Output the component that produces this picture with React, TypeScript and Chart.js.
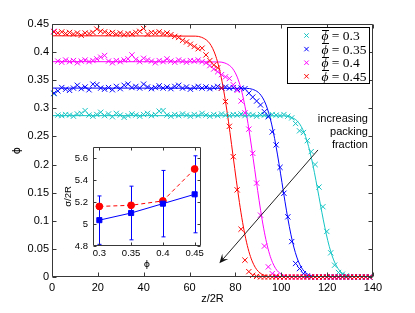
import React, { useEffect, useRef } from 'react';
import { Chart, registerables } from 'chart.js';

Chart.register(...registerables);

// ---------------- main plot data ----------------
const zValues = [
  0.85, 2.55, 4.25, 5.95, 7.65, 9.35, 11.05, 12.75, 14.45, 16.15,
  17.85, 19.55, 21.25, 22.95, 24.65, 26.35, 28.05, 29.75, 31.45, 33.15,
  34.85, 36.55, 38.25, 39.95, 41.65, 43.35, 45.05, 46.75, 48.45, 50.15,
  51.85, 53.55, 55.25, 56.95, 58.65, 60.35, 62.05, 63.75, 65.45, 67.15,
  68.85, 70.55, 72.25, 73.95, 75.65, 77.35, 79.05, 80.75, 82.45, 84.15,
  85.85, 87.55, 89.25, 90.95, 92.65, 94.35, 96.05, 97.75, 99.45, 101.15,
  102.85, 104.55, 106.25, 107.95, 109.65, 111.35, 113.05, 114.75, 116.45, 118.15,
  119.85, 121.55, 123.25, 124.95, 126.65, 128.35, 130.05, 131.75, 133.45, 135.15,
  136.85, 138.55,
];

const phi030 = [
  0.326, 0.288, 0.287, 0.289, 0.288, 0.286, 0.290, 0.291, 0.296, 0.288,
  0.286, 0.289, 0.293, 0.287, 0.290, 0.285, 0.291, 0.288, 0.284, 0.287,
  0.290, 0.288, 0.286, 0.289, 0.291, 0.287, 0.289, 0.295, 0.296, 0.288,
  0.286, 0.289, 0.287, 0.290, 0.288, 0.286, 0.289, 0.287, 0.291, 0.288,
  0.286, 0.289, 0.287, 0.290, 0.288, 0.287, 0.289, 0.288, 0.290, 0.287,
  0.289, 0.288, 0.286, 0.289, 0.288, 0.287, 0.289, 0.288, 0.287, 0.289,
  0.286, 0.283, 0.273, 0.260, 0.257, 0.2425, 0.223, 0.200, 0.160, 0.125,
  0.081, 0.043, 0.021, 0.008, 0.005, 0.002, 0, 0, 0, 0,
  0, 0,
];

const phi035 = [
  0.327, 0.331, 0.337, 0.334, 0.332, 0.336, 0.341, 0.335, 0.338, 0.333,
  0.343, 0.342, 0.336, 0.334, 0.337, 0.333, 0.339, 0.335, 0.341, 0.343,
  0.337, 0.339, 0.336, 0.343, 0.338, 0.335, 0.337, 0.340, 0.336, 0.338,
  0.335, 0.339, 0.341, 0.336, 0.338, 0.334, 0.337, 0.339, 0.336, 0.338,
  0.335, 0.337, 0.339, 0.336, 0.338, 0.336, 0.337, 0.334, 0.336, 0.335,
  0.327, 0.320, 0.313, 0.306, 0.294, 0.285, 0.258, 0.235, 0.195, 0.149,
  0.107, 0.063, 0.024, 0.015, 0.006, 0.002, 0, 0, 0, 0,
  0, 0, 0, 0, 0, 0, 0, 0, 0, 0,
  0, 0,
];

const phi040 = [
  0.437, 0.384, 0.382, 0.386, 0.383, 0.385, 0.381, 0.384, 0.386, 0.383,
  0.385, 0.388, 0.391, 0.394, 0.384, 0.381, 0.385, 0.383, 0.386, 0.388,
  0.395, 0.387, 0.383, 0.389, 0.386, 0.384, 0.381, 0.385, 0.383, 0.388,
  0.384, 0.382, 0.386, 0.384, 0.382, 0.385, 0.384, 0.386, 0.383, 0.381,
  0.376, 0.370, 0.365, 0.360, 0.356, 0.353, 0.342, 0.332, 0.313, 0.292,
  0.263, 0.220, 0.167, 0.110, 0.055, 0.018, 0.006, 0.002, 0, 0,
  0, 0, 0, 0, 0, 0, 0, 0, 0, 0,
  0, 0, 0, 0, 0, 0, 0, 0, 0, 0,
  0, 0,
];

const phi045 = [
  0.436, 0.434, 0.436, 0.433, 0.435, 0.432, 0.434, 0.430, 0.434, 0.433,
  0.435, 0.441, 0.437, 0.436, 0.433, 0.435, 0.432, 0.434, 0.431, 0.433,
  0.432, 0.435, 0.437, 0.442, 0.432, 0.435, 0.434, 0.436, 0.433, 0.434,
  0.431, 0.428, 0.426, 0.421, 0.418, 0.414, 0.410, 0.406, 0.407, 0.395,
  0.385, 0.377, 0.372, 0.336, 0.312, 0.268, 0.214, 0.155, 0.085, 0.030,
  0.0095, 0.003, 0.001, 0, 0, 0, 0, 0, 0, 0,
  0, 0, 0, 0, 0, 0, 0, 0, 0, 0,
  0, 0, 0, 0, 0, 0, 0, 0, 0, 0,
  0, 0,
];

// fitted profiles
const fit030Z = [0, 100.95, 103.53, 106.1, 107.39, 108.68, 109.96, 111.25, 112.54, 113.83, 115.11, 116.4, 117.69, 118.98, 120.26, 121.55, 122.84, 124.13, 125.41, 126.7, 129.28, 131.85, 140];
const fit030Phi = [0.287, 0.2866, 0.2852, 0.2805, 0.2755, 0.2678, 0.2567, 0.2415, 0.222, 0.1985, 0.1718, 0.1435, 0.1152, 0.0886, 0.065, 0.0455, 0.0303, 0.0192, 0.0115, 0.0065, 0.0018, 0.0004, 0];
const fit035Z = [0, 84.82, 87.4, 89.98, 91.27, 92.56, 93.85, 95.14, 96.43, 97.72, 99.01, 100.3, 101.59, 102.88, 104.17, 105.46, 106.75, 108.04, 109.33, 110.62, 113.2, 115.78, 140];
const fit035Phi = [0.336, 0.3355, 0.3339, 0.3284, 0.3225, 0.3136, 0.3005, 0.2827, 0.2599, 0.2323, 0.2012, 0.168, 0.1348, 0.1037, 0.0761, 0.0533, 0.0355, 0.0224, 0.0135, 0.0076, 0.0021, 0.0005, 0];
const fit040Z = [0, 72.8, 75.4, 78.0, 79.3, 80.6, 81.9, 83.2, 84.5, 85.8, 87.1, 88.4, 89.7, 91.0, 92.3, 93.6, 94.9, 96.2, 97.5, 98.8, 101.4, 104, 140];
const fit040Phi = [0.383, 0.3825, 0.3806, 0.3743, 0.3677, 0.3574, 0.3425, 0.3222, 0.2962, 0.2648, 0.2293, 0.1915, 0.1537, 0.1182, 0.0868, 0.0608, 0.0405, 0.0256, 0.0153, 0.0087, 0.0024, 0.0005, 0];
const fit045Z = [0, 62.5, 65.25, 68.0, 69.375, 70.75, 72.125, 73.5, 74.875, 76.25, 77.625, 79, 80.375, 81.75, 83.125, 84.5, 85.875, 87.25, 88.625, 90, 92.75, 95.5, 140];
const fit045Phi = [0.429, 0.4284, 0.4263, 0.4192, 0.4118, 0.4003, 0.3837, 0.3609, 0.3318, 0.2966, 0.2568, 0.2145, 0.1722, 0.1324, 0.0972, 0.0681, 0.0453, 0.0287, 0.0172, 0.0098, 0.0027, 0.0006, 0];

const xTicks = [0, 20, 40, 60, 80, 100, 120, 140];
const yTicks = [0, 0.05, 0.1, 0.15, 0.2, 0.25, 0.3, 0.35, 0.4, 0.45];
const legendValues = ['0.3', '0.35', '0.4', '0.45'];
const noteLines = ['increasing', 'packing', 'fraction'];
const arrowFrom = [116, 0.226];
const arrowTo = [73, 0.0244];
const noteAnchor = [137.8, 0.2811];
const noteStep = 0.0231;

// ---------------- inset data ----------------
const insetPhi = [0.3, 0.35, 0.4, 0.45];
const sigmaFit = [5.16, 5.17, 5.21, 5.5];
const sigmaMean = [5.035, 5.1, 5.185, 5.27];
const sigmaErr = [0.22, 0.244, 0.302, 0.35];
const insetXTicks = [0.3, 0.35, 0.4, 0.45];
const insetYTicks = [4.8, 5, 5.2, 5.4, 5.6];

const CYAN = 'rgb(20,196,196)';
const BLUE = '#0000ff';
const MAGENTA = '#ff00ff';
const RED = '#ff0000';
const AXIS = '#383838';
const SANS = '"Liberation Sans", Arial, Helvetica, sans-serif';
const SERIF = '"Liberation Serif", "DejaVu Serif", serif';
const seriesColors = [CYAN, BLUE, MAGENTA, RED];

function pts(xs: number[], ys: number[]) {
  return xs.map((x, i) => ({ x, y: ys[i] }));
}

function drawBoxAndTicks(chart: any, xt: number[], yt: number[], len: number) {
  const { ctx, chartArea: a, scales } = chart;
  const L = Math.round(a.left) + 0.5;
  const R = Math.round(a.right) - 0.5;
  const T = Math.round(a.top) + 0.5;
  const B = Math.round(a.bottom) - 0.5;
  ctx.save();
  ctx.strokeStyle = AXIS;
  ctx.lineWidth = 1;
  ctx.beginPath();
  ctx.rect(L, T, R - L, B - T);
  xt.forEach((v) => {
    const px = Math.round(scales.x.getPixelForValue(v)) + 0.5;
    ctx.moveTo(px, B);
    ctx.lineTo(px, B - len);
    ctx.moveTo(px, T);
    ctx.lineTo(px, T + len);
  });
  yt.forEach((v) => {
    const py = Math.round(scales.y.getPixelForValue(v)) + 0.5;
    ctx.moveTo(L, py);
    ctx.lineTo(L + len, py);
    ctx.moveTo(R, py);
    ctx.lineTo(R - len, py);
  });
  ctx.stroke();
  ctx.restore();
}

const mainDeco = {
  id: 'mainDeco',
  afterDraw(chart: any) {
    const { ctx, chartArea: a, scales } = chart;
    drawBoxAndTicks(chart, xTicks, yTicks, 4);
    ctx.save();
    // legend
    const lw = 82;
    const lh = 56;
    const lx = Math.round(a.right - 4 - lw) + 0.5;
    const ly = Math.round(a.top + 3) + 0.5;
    ctx.fillStyle = '#fff';
    ctx.fillRect(lx, ly, lw, lh);
    ctx.strokeStyle = '#000';
    ctx.lineWidth = 1;
    ctx.strokeRect(lx, ly, lw, lh);
    legendValues.forEach((val, i) => {
      const cy = ly + 8 + i * 13.6;
      const mx = lx + 19;
      ctx.strokeStyle = seriesColors[i];
      ctx.beginPath();
      ctx.moveTo(mx - 2.2, cy - 2.2);
      ctx.lineTo(mx + 2.2, cy + 2.2);
      ctx.moveTo(mx - 2.2, cy + 2.2);
      ctx.lineTo(mx + 2.2, cy - 2.2);
      ctx.stroke();
      const tx = lx + 34;
      const base = cy + 4.5;
      ctx.fillStyle = '#000';
      ctx.textBaseline = 'alphabetic';
      ctx.textAlign = 'left';
      ctx.font = 'italic 13.5px ' + SERIF;
      ctx.fillText('\u03d5', tx, base);
      const w = ctx.measureText('\u03d5').width;
      ctx.strokeStyle = '#000';
      ctx.beginPath();
      ctx.moveTo(tx + 0.5, Math.round(cy - 6) + 0.5);
      ctx.lineTo(tx + w + 0.5, Math.round(cy - 6) + 0.5);
      ctx.stroke();
      ctx.font = '13.5px ' + SERIF;
      ctx.fillText(' = ' + val, tx + w, base);
    });
    // annotation text
    ctx.fillStyle = '#000';
    ctx.font = '11px ' + SANS;
    ctx.textAlign = 'right';
    ctx.textBaseline = 'middle';
    const nx = scales.x.getPixelForValue(noteAnchor[0]);
    noteLines.forEach((t, i) => {
      ctx.fillText(t, nx, scales.y.getPixelForValue(noteAnchor[1] - i * noteStep));
    });
    // arrow
    const x1 = scales.x.getPixelForValue(arrowFrom[0]);
    const y1 = scales.y.getPixelForValue(arrowFrom[1]);
    const x2 = scales.x.getPixelForValue(arrowTo[0]);
    const y2 = scales.y.getPixelForValue(arrowTo[1]);
    const ang = Math.atan2(y2 - y1, x2 - x1);
    const c = Math.cos(ang);
    const s = Math.sin(ang);
    ctx.strokeStyle = '#222';
    ctx.lineWidth = 1;
    ctx.beginPath();
    ctx.moveTo(x1, y1);
    ctx.lineTo(x2 - 5 * c, y2 - 5 * s);
    ctx.stroke();
    const HL = 9;
    const HW = 4;
    ctx.fillStyle = '#111';
    ctx.beginPath();
    ctx.moveTo(x2, y2);
    ctx.lineTo(x2 - HL * c + HW * s, y2 - HL * s - HW * c);
    ctx.lineTo(x2 - 0.6 * HL * c, y2 - 0.6 * HL * s);
    ctx.lineTo(x2 - HL * c - HW * s, y2 - HL * s + HW * c);
    ctx.closePath();
    ctx.fill();
    ctx.restore();
  },
};

const insetDeco = {
  id: 'insetDeco',
  beforeDraw(chart: any) {
    const { ctx, chartArea: a } = chart;
    ctx.save();
    ctx.fillStyle = '#fff';
    ctx.fillRect(a.left, a.top, a.right - a.left, a.bottom - a.top);
    ctx.restore();
  },
  beforeDatasetsDraw(chart: any) {
    const { ctx, scales } = chart;
    ctx.save();
    ctx.strokeStyle = BLUE;
    ctx.lineWidth = 1;
    insetPhi.forEach((p, i) => {
      const px = Math.round(scales.x.getPixelForValue(p)) + 0.5;
      const top = scales.y.getPixelForValue(sigmaMean[i] + sigmaErr[i]);
      const bot = scales.y.getPixelForValue(sigmaMean[i] - sigmaErr[i]);
      ctx.beginPath();
      ctx.moveTo(px, top);
      ctx.lineTo(px, bot);
      ctx.moveTo(px - 2, top);
      ctx.lineTo(px + 2, top);
      ctx.moveTo(px - 2, bot);
      ctx.lineTo(px + 2, bot);
      ctx.stroke();
    });
    ctx.restore();
  },
  afterDraw(chart: any) {
    drawBoxAndTicks(chart, insetXTicks, insetYTicks, 3);
  },
};

function markerSet(label: string, ys: number[], color: string, order: number) {
  return {
    label,
    data: pts(zValues, ys),
    showLine: false,
    pointStyle: 'crossRot',
    pointRadius: 3.7,
    pointBorderWidth: 1,
    borderColor: color,
    pointBorderColor: color,
    backgroundColor: color,
    clip: false,
    order,
  };
}

function fitSet(label: string, xs: number[], ys: number[], color: string, order: number) {
  return {
    label,
    data: pts(xs, ys),
    borderColor: color,
    borderWidth: 1,
    pointRadius: 0,
    cubicInterpolationMode: 'monotone',
    fill: false,
    order,
  };
}

export default function App() {
  const mainRef = useRef<HTMLCanvasElement>(null);
  const insetRef = useRef<HTMLCanvasElement>(null);

  useEffect(() => {
    const tickFont = { family: SANS, size: 11 };
    const main = new Chart(mainRef.current as HTMLCanvasElement, {
      type: 'line',
      data: {
        datasets: [
          fitSet('fit 0.3', fit030Z, fit030Phi, CYAN, 7),
          fitSet('fit 0.35', fit035Z, fit035Phi, BLUE, 6),
          fitSet('fit 0.4', fit040Z, fit040Phi, MAGENTA, 5),
          fitSet('fit 0.45', fit045Z, fit045Phi, RED, 4),
          markerSet('0.3', phi030, CYAN, 3),
          markerSet('0.35', phi035, BLUE, 2),
          markerSet('0.4', phi040, MAGENTA, 1),
          markerSet('0.45', phi045, RED, 0),
        ] as any,
      },
      options: {
        animation: false,
        responsive: false,
        devicePixelRatio: 1,
        events: [],
        layout: { padding: { left: 0, top: 24, right: 42, bottom: 0 } },
        plugins: { legend: { display: false }, tooltip: { enabled: false } },
        scales: {
          x: {
            type: 'linear',
            min: 0,
            max: 140,
            afterBuildTicks: (s: any) => {
              s.ticks = xTicks.map((v) => ({ value: v }));
            },
            afterFit: (s: any) => {
              s.height = 36;
            },
            ticks: {
              font: tickFont,
              color: '#000',
              padding: 4,
              maxRotation: 0,
              autoSkip: false,
              callback: (v: any) => String(v),
            },
            grid: { display: false, drawTicks: false },
            border: { display: false },
            title: {
              display: true,
              text: 'z/2R',
              color: '#000',
              font: { family: SANS, size: 11 },
              padding: { top: 0, bottom: 7 },
            },
          },
          y: {
            type: 'linear',
            min: 0,
            max: 0.45,
            afterBuildTicks: (s: any) => {
              s.ticks = yTicks.map((v) => ({ value: v }));
            },
            afterFit: (s: any) => {
              s.width = 52;
            },
            ticks: {
              font: tickFont,
              color: '#000',
              padding: 3,
              autoSkip: false,
              callback: (v: any) => String(v),
            },
            grid: { display: false, drawTicks: false },
            border: { display: false },
            title: {
              display: true,
              text: '\u03d5',
              color: '#000',
              font: { family: '"DejaVu Sans", ' + SANS, size: 11 },
              padding: { top: 11, bottom: 0 },
            },
          },
        },
      } as any,
      plugins: [mainDeco],
    });

    const insetFont = { family: SANS, size: 9.5 };
    const inset = new Chart(insetRef.current as HTMLCanvasElement, {
      type: 'line',
      data: {
        datasets: [
          {
            label: 'sigma fit',
            data: pts(insetPhi, sigmaFit),
            borderColor: RED,
            backgroundColor: RED,
            borderWidth: 1,
            borderDash: [4, 3],
            pointStyle: 'circle',
            pointRadius: 3.4,
            pointBackgroundColor: RED,
            pointBorderColor: RED,
            order: 1,
          },
          {
            label: 'sigma mean',
            data: pts(insetPhi, sigmaMean),
            borderColor: BLUE,
            backgroundColor: BLUE,
            borderWidth: 1,
            pointStyle: 'rect',
            pointRadius: 3.6,
            pointBackgroundColor: BLUE,
            pointBorderColor: BLUE,
            order: 0,
          },
        ] as any,
      },
      options: {
        animation: false,
        responsive: false,
        devicePixelRatio: 1,
        events: [],
        layout: { padding: { left: 0, top: 12, right: 14, bottom: 0 } },
        plugins: { legend: { display: false }, tooltip: { enabled: false } },
        scales: {
          x: {
            type: 'linear',
            min: 0.29,
            max: 0.46,
            afterBuildTicks: (s: any) => {
              s.ticks = insetXTicks.map((v) => ({ value: v }));
            },
            afterFit: (s: any) => {
              s.height = 29;
            },
            ticks: {
              font: insetFont,
              color: '#000',
              padding: 2,
              maxRotation: 0,
              autoSkip: false,
              callback: (v: any) => String(v),
            },
            grid: { display: false, drawTicks: false },
            border: { display: false },
            title: {
              display: true,
              text: '\u03d5',
              color: '#000',
              font: { family: '"DejaVu Sans", ' + SANS, size: 9.5 },
              padding: { top: 0, bottom: 5 },
            },
          },
          y: {
            type: 'linear',
            min: 4.8,
            max: 5.7,
            afterBuildTicks: (s: any) => {
              s.ticks = insetYTicks.map((v) => ({ value: v }));
            },
            afterFit: (s: any) => {
              s.width = 38;
            },
            ticks: {
              font: insetFont,
              color: '#000',
              padding: 5,
              autoSkip: false,
              callback: (v: any) => String(v),
            },
            grid: { display: false, drawTicks: false },
            border: { display: false },
            title: {
              display: true,
              text: '\u03c3/2R',
              color: '#000',
              font: insetFont,
              padding: { top: 8, bottom: 0 },
            },
          },
        },
      } as any,
      plugins: [insetDeco],
    });

    return () => {
      main.destroy();
      inset.destroy();
    };
  }, []);

  return (
    <div
      style={{
        position: 'absolute',
        left: 0,
        top: 0,
        width: 415,
        height: 313,
        background: '#fff',
        overflow: 'hidden',
      }}
    >
      <canvas
        ref={mainRef}
        width={415}
        height={313}
        style={{ position: 'absolute', left: 0, top: 0, width: 415, height: 313 }}
      />
      <canvas
        ref={insetRef}
        width={160}
        height={140}
        style={{ position: 'absolute', left: 55, top: 135, width: 160, height: 140 }}
      />
    </div>
  );
}
